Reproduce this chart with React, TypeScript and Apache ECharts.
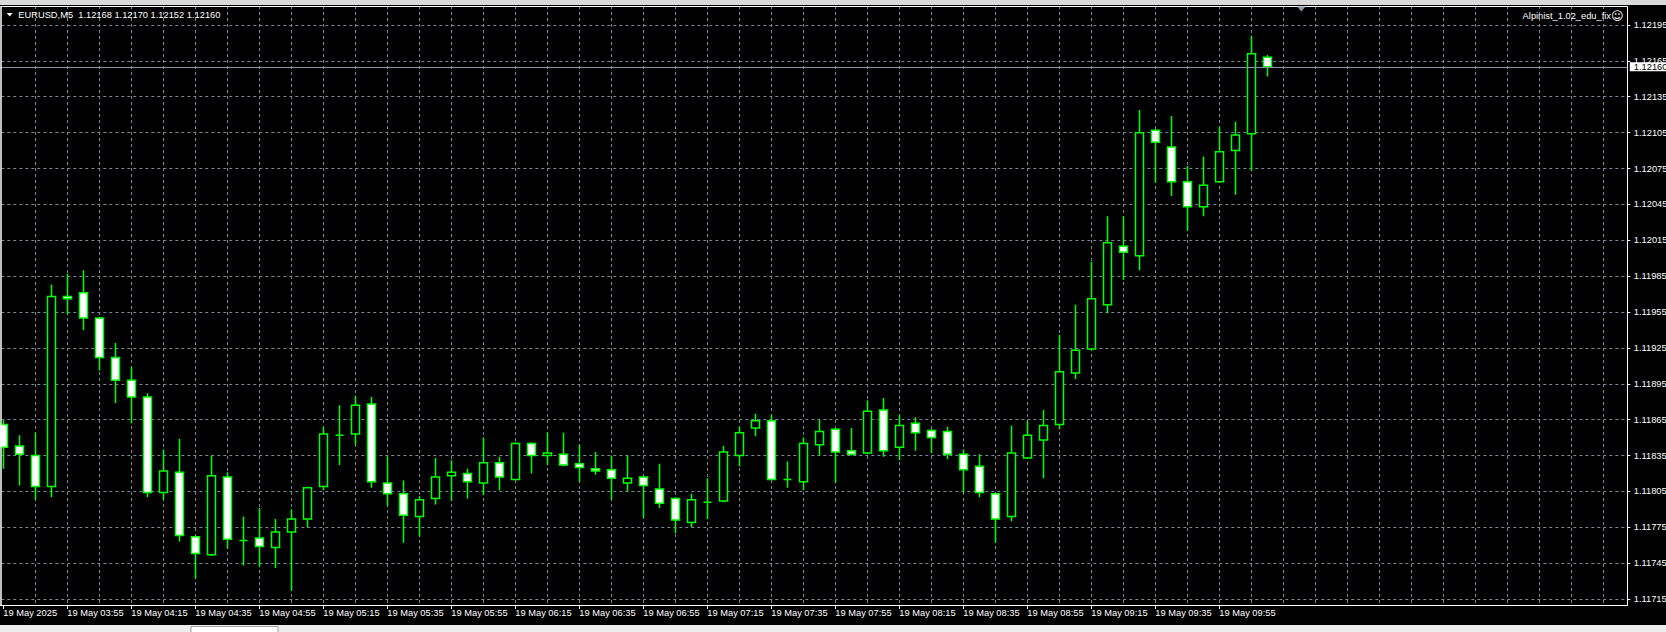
import React, { useEffect, useRef } from "react";
import * as echarts from "echarts";

// ---- data (EURUSD M5, 19 May 2025, first bar 03:35) ----
const symbolTitle = "EURUSD,M5  1.12168 1.12170 1.12152 1.12160";
const indicatorName = "Alpinist_1.02_edu_fix";
const indicatorIcon = "\u263A";
const slotCount = 102; // bar slots visible on the chart (data + right shift)

const open = [
  1.11861, 1.11843, 1.11835, 1.11809, 1.11968, 1.11971, 1.11950, 1.11917, 1.11898, 1.11884,
  1.11804, 1.11821, 1.11767, 1.11752, 1.11817, 1.11764, 1.11766, 1.11758, 1.11771, 1.11782,
  1.11809, 1.11852, 1.11853, 1.11878, 1.11812, 1.11803, 1.11784, 1.11799, 1.11818, 1.11820,
  1.11812, 1.11829, 1.11815, 1.11845, 1.11835, 1.11836, 1.11828, 1.11824, 1.11823, 1.11812,
  1.11817, 1.11807, 1.11799, 1.11779, 1.11796, 1.11797, 1.11835, 1.11858, 1.11864, 1.11815,
  1.11813, 1.11844, 1.11857, 1.11839, 1.11837, 1.11873, 1.11842, 1.11862, 1.11856, 1.11855,
  1.11836, 1.11826, 1.11803, 1.11784, 1.11833, 1.11848, 1.11861, 1.11904, 1.11924, 1.11961,
  1.12010, 1.12002, 1.12107, 1.12093, 1.12064, 1.12043, 1.12064, 1.12090, 1.12104, 1.12168,
];
const high = [
  1.11865, 1.11852, 1.11854, 1.11978, 1.11987, 1.11990, 1.11951, 1.11929, 1.11909, 1.11887,
  1.11840, 1.11849, 1.11768, 1.11835, 1.11821, 1.11784, 1.11791, 1.11782, 1.11790, 1.11809,
  1.11859, 1.11877, 1.11885, 1.11884, 1.11834, 1.11814, 1.11801, 1.11833, 1.11831, 1.11824,
  1.11850, 1.11834, 1.11846, 1.11846, 1.11854, 1.11854, 1.11844, 1.11838, 1.11835, 1.11835,
  1.11818, 1.11828, 1.11800, 1.11803, 1.11816, 1.11843, 1.11859, 1.11870, 1.11869, 1.11830,
  1.11850, 1.11865, 1.11858, 1.11858, 1.11881, 1.11883, 1.11869, 1.11867, 1.11857, 1.11859,
  1.11840, 1.11836, 1.11804, 1.11860, 1.11864, 1.11873, 1.11936, 1.11961, 1.11997, 1.12035,
  1.12035, 1.12124, 1.12108, 1.12119, 1.12077, 1.12085, 1.12110, 1.12114, 1.12186, 1.12170,
];
const low = [
  1.11824, 1.11810, 1.11798, 1.11800, 1.11953, 1.11940, 1.11906, 1.11879, 1.11862, 1.11800,
  1.11798, 1.11763, 1.11732, 1.11751, 1.11757, 1.11743, 1.11742, 1.11741, 1.11722, 1.11775,
  1.11806, 1.11827, 1.11844, 1.11808, 1.11793, 1.11762, 1.11767, 1.11794, 1.11797, 1.11799,
  1.11802, 1.11806, 1.11814, 1.11820, 1.11827, 1.11826, 1.11813, 1.11819, 1.11798, 1.11805,
  1.11783, 1.11791, 1.11770, 1.11775, 1.11782, 1.11796, 1.11826, 1.11851, 1.11814, 1.11808,
  1.11806, 1.11835, 1.11812, 1.11835, 1.11836, 1.11834, 1.11831, 1.11839, 1.11837, 1.11832,
  1.11804, 1.11800, 1.11762, 1.11780, 1.11832, 1.11816, 1.11857, 1.11899, 1.11923, 1.11954,
  1.11982, 1.11990, 1.12063, 1.12052, 1.12023, 1.12035, 1.12063, 1.12053, 1.12073, 1.12152,
];
const close = [
  1.11842, 1.11836, 1.11809, 1.11968, 1.11966, 1.11950, 1.11917, 1.11898, 1.11884, 1.11804,
  1.11822, 1.11768, 1.11753, 1.11818, 1.11765, 1.11764, 1.11759, 1.11771, 1.11782, 1.11808,
  1.11853, 1.11852, 1.11877, 1.11813, 1.11803, 1.11785, 1.11798, 1.11817, 1.11821, 1.11813,
  1.11829, 1.11817, 1.11845, 1.11835, 1.11837, 1.11827, 1.11825, 1.11822, 1.11816, 1.11816,
  1.11810, 1.11795, 1.11781, 1.11798, 1.11796, 1.11838, 1.11854, 1.11864, 1.11815, 1.11815,
  1.11845, 1.11855, 1.11838, 1.11836, 1.11872, 1.11839, 1.11860, 1.11854, 1.11850, 1.11836,
  1.11823, 1.11804, 1.11782, 1.11837, 1.11852, 1.11860, 1.11905, 1.11923, 1.11966, 1.12013,
  1.12005, 1.12105, 1.12097, 1.12064, 1.12043, 1.12061, 1.12089, 1.12103, 1.12171, 1.12160,
];

// time labels drawn every 4th bar (20 minutes)
const timeLabels = [
  "19 May 2025", "19 May 03:55", "19 May 04:15", "19 May 04:35", "19 May 04:55",
  "19 May 05:15", "19 May 05:35", "19 May 05:55", "19 May 06:15", "19 May 06:35",
  "19 May 06:55", "19 May 07:15", "19 May 07:35", "19 May 07:55", "19 May 08:15",
  "19 May 08:35", "19 May 08:55", "19 May 09:15", "19 May 09:35", "19 May 09:55",
];
const labelEvery = 4;

// price scale
const priceMin = 1.11715;
const priceMax = 1.12195;
const priceStep = 0.0003;
const bidPrice = 1.1216;

// bar slot names (5-minute steps from 03:35)
const slots: string[] = [];
for (let i = 0; i < slotCount; i++) {
  const t = 3 * 60 + 35 + 5 * i;
  const hh = String(Math.floor(t / 60) % 24).padStart(2, "0");
  const mm = String(t % 60).padStart(2, "0");
  slots.push(`19 May ${hh}:${mm}`);
}

const FONT = "'Liberation Sans', Arial, sans-serif";
const GRID_COLOR = "#778899";

export default function App() {
  const ref = useRef<HTMLDivElement>(null);

  useEffect(() => {
    if (!ref.current) return;
    const chart = echarts.init(ref.current, undefined, { renderer: "svg" });

    const candles = open.map((o, i) => [o, close[i], low[i], high[i]]);
    const showLabel = (index: number) =>
      index % labelEvery === 0 && index / labelEvery < timeLabels.length;

    const W = 1666;
    const H = 632;
    const plotTop = 6;
    const plotBottom = 605;
    const plotRight = 1627.5;

    chart.setOption({
      animation: false,
      backgroundColor: "#000000",
      textStyle: { fontFamily: FONT },
      grid: [
        {
          // candles: slot i centred at x = 3.3 + 16 i
          left: -4.7,
          right: W - 1627.3,
          top: 25,
          bottom: H - 599,
          containLabel: false,
          outerBoundsMode: "none",
        },
        {
          // vertical dashed grid, every 2 bars (bars 2..100)
          left: 35.3,
          right: W - 1603.3,
          top: plotTop,
          bottom: H - plotBottom,
          containLabel: false,
          outerBoundsMode: "none",
        },
      ],
      xAxis: [
        {
          type: "category",
          gridIndex: 0,
          data: slots,
          boundaryGap: true,
          offset: 6,
          axisLine: { show: true, lineStyle: { color: "#ffffff", width: 1 } },
          axisTick: {
            show: true,
            alignWithLabel: true,
            length: 4,
            interval: (index: number) => showLabel(index),
            lineStyle: { color: "#ffffff" },
          },
          axisLabel: {
            show: true,
            interval: (index: number) => showLabel(index),
            formatter: (_v: string, index: number) =>
              showLabel(index) ? timeLabels[index / labelEvery] : "",
            align: "left",
            color: "#ffffff",
            fontFamily: FONT,
            fontSize: 9.3,
            margin: 3.5,
            hideOverlap: false,
          },
          splitLine: { show: false },
        },
        {
          type: "value",
          gridIndex: 1,
          min: 2,
          max: 100,
          interval: 2,
          axisLine: { show: false },
          axisTick: { show: false },
          axisLabel: { show: false },
          splitLine: {
            show: true,
            lineStyle: { color: GRID_COLOR, type: [3, 3], width: 1 },
          },
        },
      ],
      yAxis: [
        {
          type: "value",
          gridIndex: 0,
          position: "right",
          min: priceMin,
          max: priceMax,
          interval: priceStep,
          scale: true,
          axisLine: { show: false },
          axisTick: {
            show: true,
            length: 3,
            lineStyle: { color: "#ffffff" },
          },
          axisLabel: {
            show: true,
            color: "#ffffff",
            fontFamily: FONT,
            fontSize: 9.3,
            margin: 6.5,
            formatter: (v: number) => v.toFixed(5),
          },
          splitLine: {
            show: true,
            lineStyle: { color: GRID_COLOR, type: [3, 3], width: 1 },
          },
        },
        {
          type: "value",
          gridIndex: 1,
          show: false,
          min: 0,
          max: 1,
        },
      ],
      series: [
        {
          type: "candlestick",
          xAxisIndex: 0,
          yAxisIndex: 0,
          data: candles,
          barWidth: 9,
          itemStyle: {
            color: "#000000",
            color0: "#ffffff",
            borderColor: "#00ff00",
            borderColor0: "#00ff00",
            borderColorDoji: "#00ff00",
            borderWidth: 1.5,
          },
          markLine: {
            silent: true,
            precision: 5,
            symbol: ["none", "none"],
            lineStyle: { color: "#8593a3", type: "solid", width: 1 },
            label: {
              show: true,
              position: "end",
              distance: 2.5,
              formatter: (p: any) => Number(p.value).toFixed(5),
              backgroundColor: "#ffffff",
              color: "#000000",
              fontFamily: FONT,
              fontSize: 9.3,
              lineHeight: 9,
              padding: [0, 6, 0, 4],
            },
            data: [{ yAxis: bidPrice }],
          },
        },
      ],
      graphic: [
        // window chrome strips
        {
          type: "rect",
          z: 100,
          shape: { x: 0, y: 0, width: W, height: 5 },
          style: { fill: "#d9d9d9" },
        },
        {
          type: "rect",
          z: 100,
          shape: { x: 0, y: 625, width: W, height: 7 },
          style: { fill: "#ececec" },
        },
        {
          type: "rect",
          z: 101,
          shape: { x: 191, y: 626.5, width: 87, height: 6 },
          style: { fill: "#ffffff", stroke: "#a0a0a0", lineWidth: 1 },
        },
        // plot frame
        {
          type: "line",
          z: 100,
          shape: { x1: 1, y1: plotTop + 0.5, x2: plotRight, y2: plotTop + 0.5 },
          style: { stroke: "#ffffff", lineWidth: 1 },
        },
        {
          type: "line",
          z: 100,
          shape: { x1: 1, y1: plotTop, x2: 1, y2: plotBottom },
          style: { stroke: "#ffffff", lineWidth: 1.5 },
        },
        {
          type: "line",
          z: 100,
          shape: { x1: plotRight, y1: plotTop, x2: plotRight, y2: plotBottom + 0.5 },
          style: { stroke: "#ffffff", lineWidth: 1 },
        },
        // chart shift marker
        {
          type: "polygon",
          z: 100,
          shape: { points: [[1297, 6.5], [1305.6, 6.5], [1301.3, 11.5]] },
          style: { fill: "#8a97a8" },
        },
        // header
        {
          type: "polygon",
          z: 100,
          shape: { points: [[6.8, 13], [12.6, 13], [9.7, 16.6]] },
          style: { fill: "#ffffff" },
        },
        {
          type: "text",
          z: 100,
          x: 18.3,
          y: 15.3,
          style: {
            text: symbolTitle,
            fill: "#ffffff",
            font: `9.3px ${FONT}`,
            verticalAlign: "middle",
          },
        },
        {
          type: "text",
          z: 100,
          x: 1623.5,
          y: 15.5,
          style: {
            text: `{a|${indicatorName}}{b|${indicatorIcon}}`,
            fill: "#ffffff",
            font: `9.3px ${FONT}`,
            align: "right",
            verticalAlign: "middle",
            rich: {
              a: { fill: "#ffffff", fontSize: 9.3, fontFamily: FONT },
              b: { fill: "#ffffff", fontSize: 12, fontFamily: "'DejaVu Sans', sans-serif" },
            },
          },
        },
      ],
    });

    return () => {
      chart.dispose();
    };
  }, []);

  return (
    <div
      ref={ref}
      style={{ position: "fixed", left: 0, top: 0, width: 1666, height: 632 }}
    />
  );
}
